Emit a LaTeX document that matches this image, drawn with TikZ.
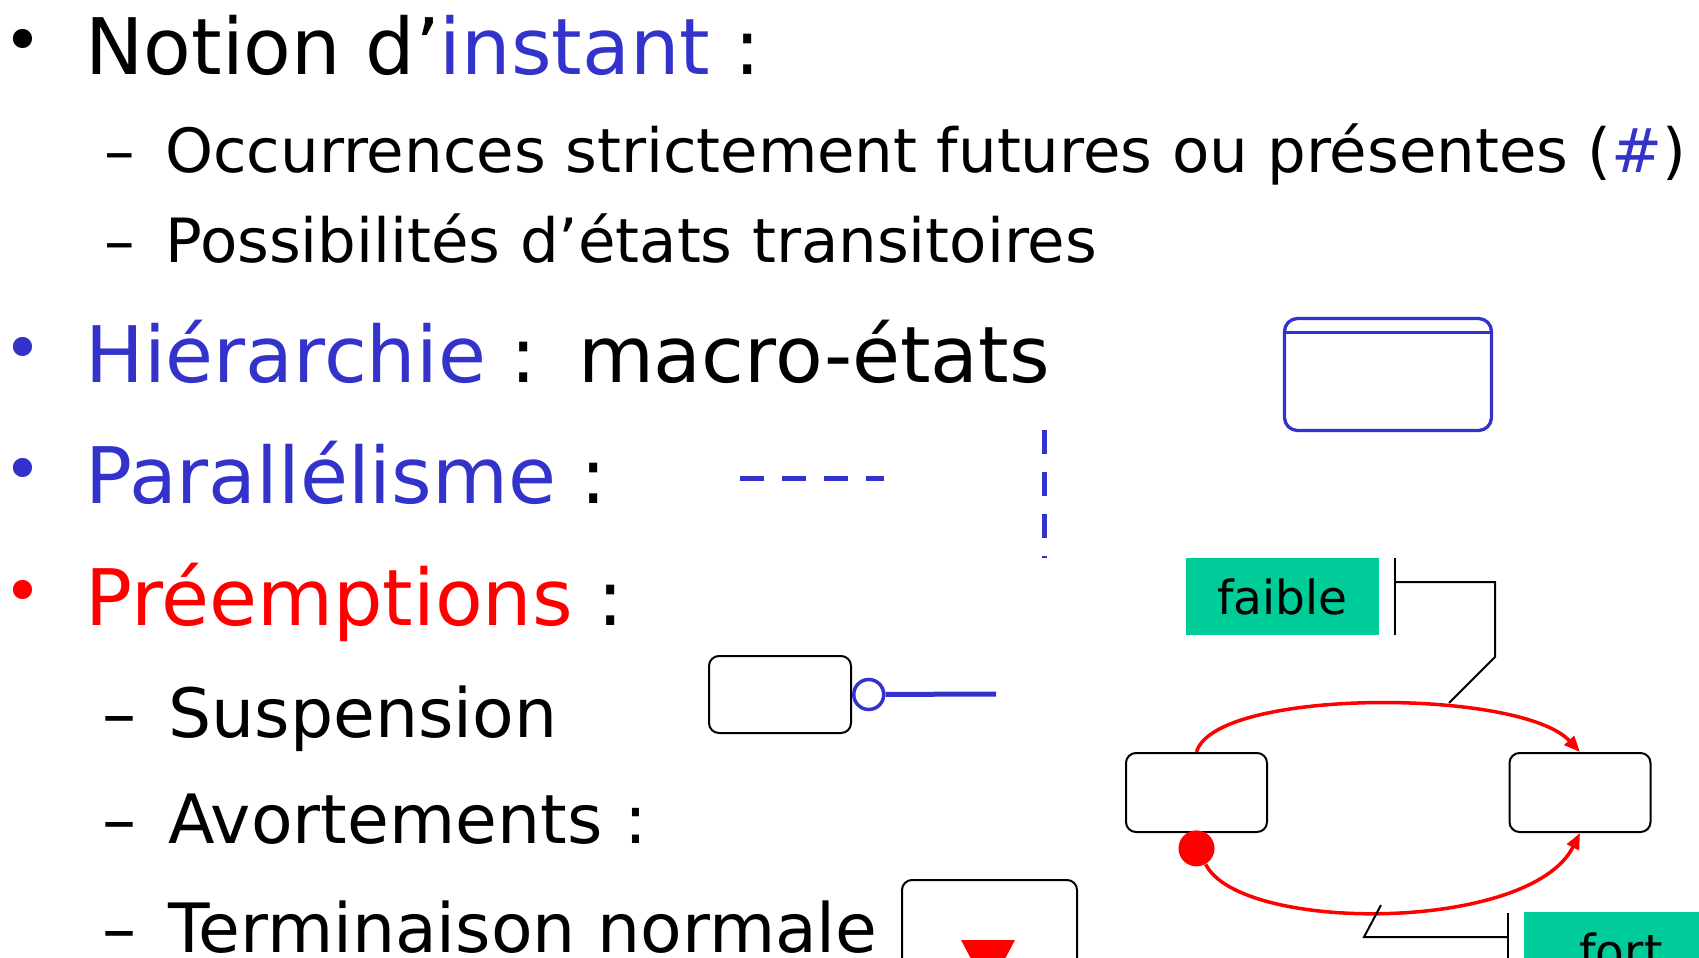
\documentclass[tikz,border=0pt]{standalone}
\usepackage{fontspec}
\setmainfont{DejaVu Sans}
\usetikzlibrary{arrows.meta,positioning}
\definecolor{slideblue}{RGB}{51,51,204}
\definecolor{stateteal}{RGB}{0,204,153}
\newcommand{\bigtxt}{\fontsize{39}{47}\selectfont}
\newcommand{\subtxt}{\fontsize{30.5}{37}\selectfont}
\newcommand{\midtxt}{\fontsize{34}{41}\selectfont}
\newcommand{\pucetxt}{\fontsize{33}{40}\selectfont}

\begin{document}
\begin{tikzpicture}[x=0.5pt,y=-0.5pt,
	txt/.style={anchor=base west,inner sep=0pt},
	puce/.style={anchor=base,inner sep=0pt},
	etat/.style={draw,line width=1pt,rounded corners=5pt,minimum width=70.5pt,minimum height=39.5pt,inner sep=0pt},
	prio/.style={fill=stateteal,minimum width=96.5pt,minimum height=38.5pt,inner sep=0pt,font=\fontsize{23.5}{28}\selectfont},
	trans/.style={red,line width=1.75pt,-{Triangle[length=8pt,width=6.5pt]}},
	crochet/.style={line width=1pt}]
	\useasboundingbox (0,0) rectangle (1699,958);
	
	% texte
	\node[puce,font=\pucetxt] (b1) at (23,63) {•};
	\node[txt,font=\bigtxt] (l1) at (85,74) {Notion d’\textcolor{slideblue}{instant} :};
	\node[puce,font=\subtxt] (d2) at (120,172) {–};
	\node[txt,font=\subtxt] (l2) at (165,172) {Occurrences strictement futures ou présentes (\textcolor{slideblue}{\#})};
	\node[puce,font=\subtxt] (d3) at (120,262) {–};
	\node[txt,font=\subtxt] (l3) at (165,262) {Possibilités d’états transitoires};
	\node[puce,font=\pucetxt,text=slideblue] (b4) at (23,371) {•};
	\node[txt,font=\bigtxt] (l4) at (85,382) {\textcolor{slideblue}{Hiérarchie} : \hspace{4pt}macro-états};
	\node[puce,font=\pucetxt,text=slideblue] (b5) at (23,492) {•};
	\node[txt,font=\bigtxt] (l5) at (85,503) {\textcolor{slideblue}{Parallélisme} :};
	\node[puce,font=\pucetxt,text=red] (b6) at (23,614) {•};
	\node[txt,font=\bigtxt] (l6) at (85,625) {\textcolor{red}{Préemptions} :};
	\node[puce,font=\midtxt] (d7) at (119,737) {–};
	\node[txt,font=\midtxt] (l7) at (168,737) {Suspension};
	\node[puce,font=\midtxt] (d8) at (119,843) {–};
	\node[txt,font=\midtxt] (l8) at (168,843) {Avortements :};
	\node[puce,font=\midtxt] (d9) at (119,952) {–};
	\node[txt,font=\midtxt] (l9) at (168,952) {Terminaison normale};
	
	% macro-etat
	\node[draw=slideblue,line width=1.65pt,rounded corners=6.5pt,minimum width=103.5pt,minimum height=56pt,inner sep=0pt] (macro) at (1388,374.5) {};
	\draw[slideblue,line width=1.65pt] ([yshift=-7.7pt]macro.north west) -- ([yshift=-7.7pt]macro.north east);
	
	% parallelisme
	\coordinate (ph1) at (740,478);
	\coordinate (ph2) at (884,478);
	\coordinate (pv1) at (1044,430);
	\coordinate (pv2) at (1044,558);
	\draw[slideblue,line width=2.5pt,dash pattern=on 12pt off 9pt] (ph1) -- (ph2);
	\draw[slideblue,line width=2.5pt,dash pattern=on 12pt off 9pt] (pv1) -- (pv2);
	
	% suspension
	\node[etat,minimum width=71pt,minimum height=38.5pt] (susp) at (780,694.5) {};
	\node[circle,draw=slideblue,line width=1.75pt,minimum size=15pt,inner sep=0pt,right=0pt of susp] (rond) {};
	\coordinate (suspfin) at (996,694);
	\draw[slideblue,line width=2.5pt] (rond) -- (suspfin);
	
	% terminaison
	\node[etat,minimum width=87.5pt,minimum height=45pt,anchor=north west] (term) at (901,879) {};
	\fill[red] (961,940) -- (1015,940) -- (988,991) -- cycle;
	
	% etats et preemptions
	\node[etat] (s1) at (1196.5,792.5) {};
	\node[etat] (s2) at (1580,792.5) {};
	\node[circle,fill=red,minimum size=18pt,inner sep=0pt,below=-1.5pt of s1] (dot) {};
	\draw[trans] (s1.north) .. controls (1215,688) and (1520,688) .. (s2.north);
	\draw[trans] (dot.-60) .. controls (1240,933) and (1530,933) .. (s2.south);
	
	\node[prio] (faible) at (1282.5,596.5) {faible};
	\node[prio,anchor=north west] (fort) at (1524,912) {fort};
	
	\coordinate (fa1) at (1395,558);
	\coordinate (fa2) at (1395,635);
	\coordinate (fa3) at (1395,582);
	\coordinate (fa4) at (1495,582);
	\coordinate (fa5) at (1495,657);
	\coordinate (fa6) at (1449,703);
	\draw[crochet] (fa1) -- (fa2);
	\draw[crochet] (fa3) -- (fa4) -- (fa5) -- (fa6);
	
	\coordinate (fo1) at (1508,913);
	\coordinate (fo2) at (1508,995);
	\coordinate (fo3) at (1508,937);
	\coordinate (fo4) at (1364,937);
	\coordinate (fo5) at (1381,905);
	\draw[crochet] (fo1) -- (fo2);
	\draw[crochet] (fo3) -- (fo4) -- (fo5);
\end{tikzpicture}
\end{document}
